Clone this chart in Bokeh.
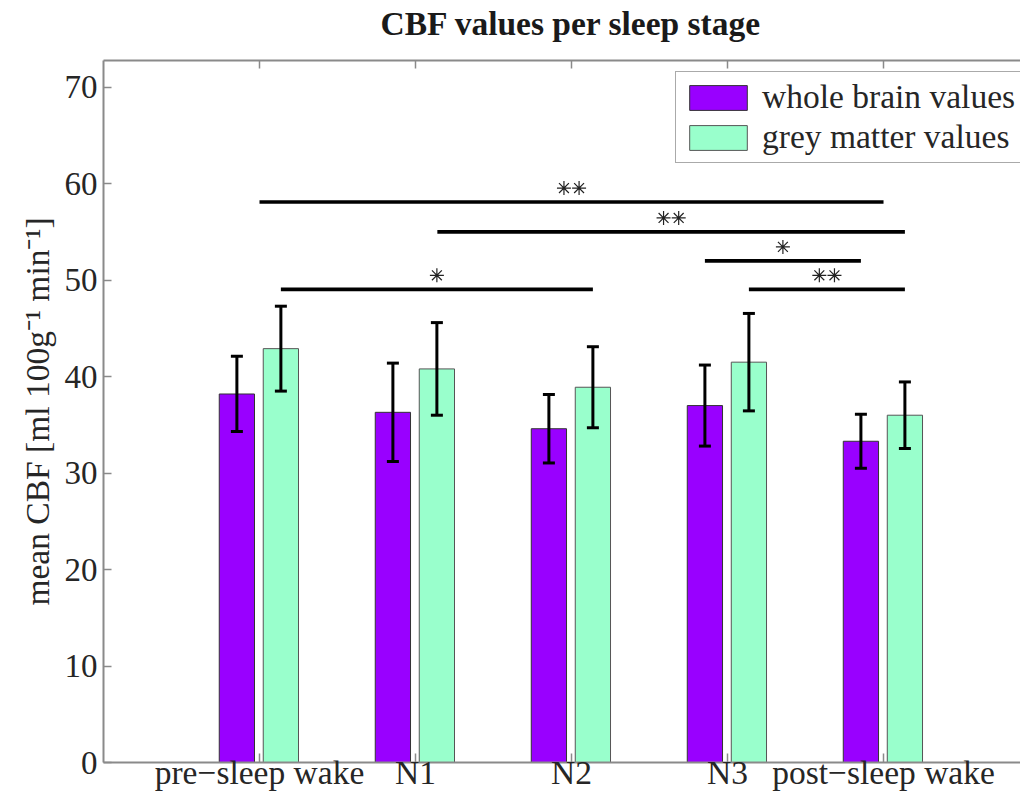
from bokeh.plotting import figure
from bokeh.models import (Range1d, LinearAxis, FixedTicker, Whisker, TeeHead,
                          ColumnDataSource)
from bokeh.embed import file_html
from bokeh.resources import INLINE

# ---------------- data ----------------
stages = ["pre\u2212sleep wake", "N1", "N2", "N3", "post\u2212sleep wake"]
stage_pos = [1, 2, 3, 4, 5]
whole_brain = [38.2, 36.3, 34.6, 37.0, 33.3]
whole_brain_err = [3.9, 5.1, 3.55, 4.2, 2.8]
grey_matter = [42.9, 40.8, 38.9, 41.5, 36.0]
grey_matter_err = [4.4, 4.8, 4.2, 5.05, 3.45]
y_ticks = [0, 10, 20, 30, 40, 50, 60, 70]

# significance brackets
sig_x0 = [1.0, 2.14, 3.855, 4.137, 1.137]
sig_x1 = [5.0, 5.137, 4.855, 5.137, 3.137]
sig_y = [58.1, 55.0, 52.0, 49.05, 49.05]
sig_stars = [2, 2, 1, 2, 1]

# ---------------- style ----------------
FONT = "Liberation Serif"
FS = "33.5px"
PURPLE = "#9900FF"
GREEN = "#99FFCC"
AXIS_GREY = "#8a8a8a"
TXT = "#262626"
OFF_W, OFF_G, BAR_W = -0.145, 0.137, 0.226
STAR_GAP = 0.097
STAR_RISE = 1.45

p = figure(width=1020, height=794, output_backend="svg", toolbar_location=None,
           x_range=Range1d(0, 5.878), y_range=Range1d(0, 72.77),
           min_border_left=103, min_border_right=0, min_border_top=60,
           min_border_bottom=32)
p.xgrid.visible = False
p.ygrid.visible = False
p.outline_line_color = None
p.background_fill_color = "white"

# title
p.title.text = "CBF values per sleep stage"
p.title.text_font = FONT
p.title.text_font_size = FS
p.title.text_font_style = "bold"
p.title.text_color = "#1a1a1a"
p.title.align = "left"
p.title.offset = 277
p.title.standoff = 0

# bars
xw = [s + OFF_W for s in stage_pos]
xg = [s + OFF_G for s in stage_pos]
src_w = ColumnDataSource(dict(x=xw, top=whole_brain,
                              lower=[m - e for m, e in zip(whole_brain, whole_brain_err)],
                              upper=[m + e for m, e in zip(whole_brain, whole_brain_err)]))
src_g = ColumnDataSource(dict(x=xg, top=grey_matter,
                              lower=[m - e for m, e in zip(grey_matter, grey_matter_err)],
                              upper=[m + e for m, e in zip(grey_matter, grey_matter_err)]))
p.vbar(x="x", top="top", width=BAR_W, source=src_w, fill_color=PURPLE,
       line_color="#333333", line_width=1, legend_label="whole brain values")
p.vbar(x="x", top="top", width=BAR_W, source=src_g, fill_color=GREEN,
       line_color="#555555", line_width=1, legend_label="grey matter values")

for src in (src_w, src_g):
    p.add_layout(Whisker(source=src, base="x", lower="lower", upper="upper",
                         level="overlay", line_color="black", line_width=3,
                         upper_head=TeeHead(size=12, line_width=3, line_color="black"),
                         lower_head=TeeHead(size=12, line_width=3, line_color="black")))

# significance lines
p.segment(x0=sig_x0, x1=sig_x1, y0=sig_y, y1=sig_y, line_color="black", line_width=3.7)
star_x, star_y = [], []
for a, b, y, n in zip(sig_x0, sig_x1, sig_y, sig_stars):
    c = (a + b) / 2
    for k in range(n):
        star_x.append(c + (k - (n - 1) / 2) * STAR_GAP)
        star_y.append(y + STAR_RISE)
p.scatter(star_x, star_y, marker="asterisk", size=14, line_color="#222222", line_width=1.2)

# axes
xa = p.xaxis[0]
xa.ticker = FixedTicker(ticks=stage_pos)
xa.major_label_overrides = {s: n for s, n in zip(stage_pos, stages)}
xa.major_label_text_font = FONT
xa.major_label_text_font_size = FS
xa.major_label_text_color = TXT
xa.major_label_standoff = -9
xa.major_tick_in = 9
xa.major_tick_out = 0
xa.minor_tick_in = 0
xa.minor_tick_out = 0
xa.axis_line_color = AXIS_GREY
xa.axis_line_width = 2
xa.major_tick_line_color = AXIS_GREY
xa.major_tick_line_width = 1.5

top = LinearAxis(ticker=FixedTicker(ticks=stage_pos),
                 major_label_overrides={s: "" for s in stage_pos},
                 major_label_text_font_size="0px", major_label_standoff=0,
                 axis_label="\u00a0", axis_label_text_font_size="10px",
                 axis_label_standoff=5,
                 major_tick_in=8, major_tick_out=0, minor_tick_in=0, minor_tick_out=0,
                 axis_line_color=AXIS_GREY, axis_line_width=2,
                 major_tick_line_color=AXIS_GREY, major_tick_line_width=1.5)
p.add_layout(top, "above")

ya = p.yaxis[0]
ya.ticker = FixedTicker(ticks=y_ticks)
ya.major_tick_in = 8
ya.major_tick_out = 0
ya.minor_tick_in = 0
ya.minor_tick_out = 0
ya.axis_line_color = AXIS_GREY
ya.axis_line_width = 2
ya.major_tick_line_color = AXIS_GREY
ya.major_tick_line_width = 1.5
ya.major_label_text_font = FONT
ya.major_label_text_font_size = "33px"
ya.major_label_text_color = TXT
ya.major_label_standoff = 6
ya.axis_label = "mean CBF [ml 100g\u207b\u00b9 min\u207b\u00b9]"
ya.axis_label_text_font = FONT
ya.axis_label_text_font_size = FS
ya.axis_label_text_font_style = "normal"
ya.axis_label_text_color = TXT
ya.axis_label_standoff = 6

# legend
lg = p.legend[0]
lg.location = (572, 599)
lg.label_text_font = FONT
lg.label_text_font_size = FS
lg.label_text_color = TXT
lg.glyph_width = 72
lg.glyph_height = 31
lg.label_height = 31
lg.label_standoff = 8
lg.spacing = 2
lg.padding = 6
lg.margin = 0
lg.border_line_color = "#555555"
lg.border_line_width = 1
lg.background_fill_alpha = 1

open("out.html", "w").write(file_html(p, INLINE))
